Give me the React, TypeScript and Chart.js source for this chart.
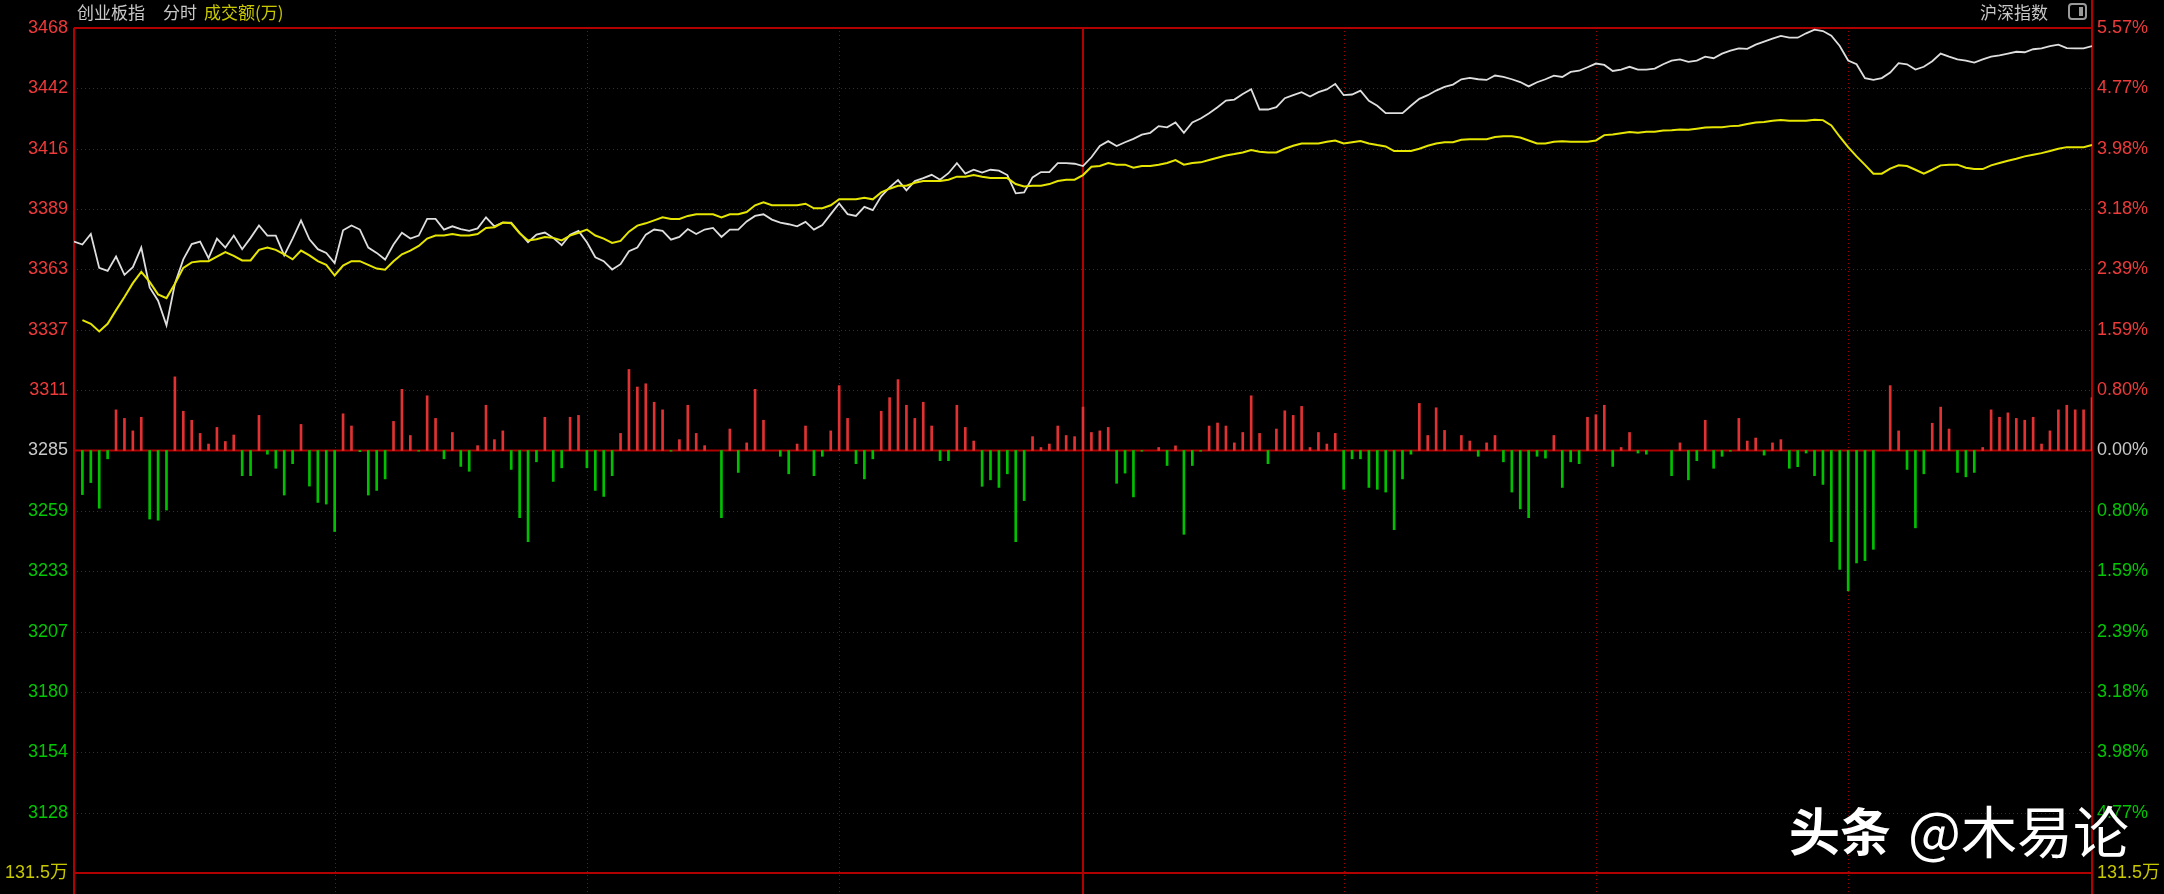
import React, { useEffect, useRef } from 'react';
import { Chart, registerables } from 'chart.js';

Chart.register(...registerables);

// ---- axis / label data ----
const prevClose = 3285;
const axisTop = 3468;
const axisBottom = 3102;
const leftTickLabels = ['3468', '3442', '3416', '3389', '3363', '3337', '3311', '3285', '3259', '3233', '3207', '3180', '3154', '3128', '131.5万'];
const rightTickLabels = ['5.57%', '4.77%', '3.98%', '3.18%', '2.39%', '1.59%', '0.80%', '0.00%', '0.80%', '1.59%', '2.39%', '3.18%', '3.98%', '4.77%', '131.5万'];
const totalMinutes = 240;
const middayMinute = 120;
const timeGridMinutes = [31, 61, 91, 151, 181, 211];
const headerName = '创业板指';
const headerMode = '分时';
const headerVolume = '成交额(万)';
const headerRight = '沪深指数';
const watermarkA = '头条';
const watermarkB = '@木易论';

// ---- series data (minute 0..240) ----
const indexLine: number[] = [
  3375.5, 3374.2, 3378.8, 3364.1, 3362.8, 3369.0, 3361.1, 3364.4, 3372.9, 3355.6,
  3349.9, 3339.2, 3357.2, 3367.8, 3374.4, 3375.5, 3368.3, 3376.8, 3372.9, 3378.1,
  3372.2, 3377.1, 3382.5, 3378.1, 3378.1, 3369.5, 3376.8, 3384.7, 3376.5, 3372.2,
  3370.6, 3366.2, 3380.4, 3382.5, 3380.7, 3372.9, 3370.6, 3367.7, 3374.2, 3379.3,
  3376.8, 3378.1, 3385.3, 3385.3, 3380.7, 3382.1, 3380.9, 3380.1, 3381.2, 3386.0,
  3382.1, 3383.7, 3383.7, 3379.3, 3375.2, 3378.5, 3379.4, 3377.1, 3373.9, 3378.5,
  3380.1, 3375.2, 3368.7, 3367.0, 3363.4, 3365.7, 3371.3, 3372.9, 3378.5, 3380.7,
  3380.1, 3376.3, 3377.5, 3380.9, 3378.8, 3380.7, 3381.4, 3377.5, 3380.7, 3380.7,
  3384.2, 3386.6, 3387.3, 3385.0, 3383.7, 3383.0, 3382.1, 3384.0, 3380.7, 3382.7,
  3387.4, 3392.0, 3387.4, 3386.6, 3390.5, 3389.1, 3395.1, 3399.0, 3402.1, 3397.7,
  3401.7, 3403.0, 3404.4, 3402.3, 3405.1, 3409.5, 3404.9, 3406.6, 3405.4, 3406.6,
  3406.2, 3404.3, 3396.4, 3396.8, 3403.3, 3405.6, 3405.6, 3409.5, 3409.5, 3409.2,
  3408.2, 3412.0, 3416.9, 3419.0, 3416.9, 3418.5, 3420.0, 3421.8, 3422.6, 3425.5,
  3425.0, 3427.1, 3422.6, 3427.1, 3428.8, 3431.1, 3433.7, 3436.6, 3437.0, 3439.4,
  3441.5, 3432.7, 3432.7, 3433.7, 3437.6, 3438.9, 3440.2, 3438.3, 3440.2, 3441.4,
  3443.8, 3438.9, 3439.2, 3440.9, 3436.5, 3434.3, 3431.1, 3431.1, 3431.1, 3434.3,
  3437.3, 3438.9, 3440.9, 3442.5, 3443.5, 3445.8, 3446.4, 3445.8, 3445.5, 3447.4,
  3446.8, 3445.8, 3444.6, 3442.7, 3444.5, 3445.8, 3447.4, 3446.8, 3449.0, 3449.5,
  3451.0, 3452.6, 3452.0, 3449.4, 3450.0, 3451.2, 3450.0, 3450.0, 3450.4, 3452.3,
  3453.9, 3454.4, 3453.3, 3453.9, 3455.6, 3454.9, 3456.9, 3458.2, 3459.2, 3459.0,
  3460.8, 3462.1, 3463.4, 3464.6, 3463.8, 3463.8, 3465.7, 3467.3, 3466.7, 3464.7,
  3460.2, 3453.9, 3452.3, 3446.3, 3445.5, 3446.3, 3448.7, 3452.8, 3452.3, 3450.0,
  3451.2, 3453.6, 3456.9, 3455.6, 3454.4, 3453.9, 3453.0, 3454.4, 3455.6, 3456.1,
  3456.9, 3457.7, 3457.5, 3458.8, 3459.2, 3460.2, 3460.8, 3459.3, 3459.2, 3459.2,
  3460.2,
];

const avgLine: (number | null)[] = [
  null, 3341.5, 3339.9, 3336.6, 3339.9, 3345.8, 3351.5, 3357.5, 3362.4, 3358.0,
  3352.6, 3351.0, 3357.2, 3364.1, 3366.5, 3367.0, 3367.0, 3369.0, 3370.9, 3369.3,
  3367.3, 3367.3, 3371.9, 3372.9, 3371.9, 3370.0, 3367.8, 3371.6, 3369.5, 3367.0,
  3365.4, 3360.8, 3365.1, 3367.0, 3367.0, 3365.4, 3363.8, 3363.3, 3367.0, 3370.0,
  3371.6, 3373.6, 3376.8, 3378.1, 3378.1, 3378.8, 3378.1, 3378.1, 3378.8, 3381.4,
  3381.7, 3383.7, 3383.4, 3379.1, 3376.0, 3376.5, 3377.5, 3377.1, 3376.0, 3378.1,
  3379.3, 3380.7, 3378.1, 3376.8, 3374.9, 3375.8, 3379.8, 3382.4, 3383.4, 3384.7,
  3386.0, 3385.3, 3385.3, 3386.6, 3387.3, 3387.3, 3387.3, 3386.0, 3387.3, 3387.3,
  3388.3, 3391.2, 3392.5, 3391.2, 3391.2, 3391.2, 3391.2, 3391.9, 3389.9, 3389.9,
  3391.2, 3393.8, 3393.8, 3393.8, 3394.5, 3393.8, 3396.8, 3398.4, 3399.7, 3399.7,
  3401.0, 3401.7, 3401.7, 3401.7, 3402.3, 3403.6, 3403.6, 3404.3, 3403.6, 3403.0,
  3403.0, 3403.0, 3400.4, 3399.4, 3399.7, 3399.7, 3400.4, 3401.7, 3402.3, 3402.3,
  3404.3, 3407.9, 3408.2, 3409.5, 3408.8, 3408.8, 3407.5, 3408.2, 3408.2, 3408.8,
  3409.5, 3410.8, 3408.8, 3409.5, 3409.8, 3410.8, 3411.8, 3412.8, 3413.4, 3414.1,
  3415.1, 3414.4, 3414.1, 3414.1, 3415.7, 3417.0, 3418.0, 3418.0, 3418.0, 3418.7,
  3419.3, 3418.0, 3418.5, 3419.0, 3418.0, 3417.3, 3416.7, 3414.7, 3414.7, 3414.7,
  3415.7, 3417.0, 3418.0, 3418.5, 3418.5, 3419.6, 3419.8, 3419.8, 3419.8, 3420.8,
  3421.1, 3421.1, 3420.6, 3419.3, 3418.0, 3418.0, 3418.7, 3419.0, 3418.7, 3418.7,
  3418.7, 3419.3, 3421.6, 3421.9, 3422.4, 3422.9, 3422.6, 3423.1, 3423.1, 3423.6,
  3423.7, 3424.0, 3423.9, 3424.4, 3424.9, 3425.0, 3425.0, 3425.5, 3425.7, 3426.4,
  3427.1, 3427.3, 3427.8, 3428.1, 3427.8, 3427.8, 3427.8, 3428.3, 3428.1, 3425.8,
  3420.9, 3416.4, 3412.4, 3408.7, 3404.9, 3404.9, 3407.1, 3408.5, 3408.2, 3406.6,
  3404.9, 3406.6, 3408.5, 3408.8, 3408.8, 3407.5, 3406.9, 3406.9, 3408.5, 3409.5,
  3410.5, 3411.4, 3412.4, 3413.1, 3413.8, 3414.7, 3415.7, 3416.4, 3416.4, 3416.4,
  3417.3,
];

// signed bar values (minute 0..240), drawn up (red) or down (green) from the centre line
const flowBars: number[] = [
  0, -19.1, -13.9, -25.0, -3.6, 17.6, 13.9, 8.5, 14.4, -29.7,
  -30.2, -25.8, 31.9, 17.0, 13.1, 7.4, 2.8, 10.0, 3.9, 6.7,
  -10.9, -10.9, 15.2, -1.6, -7.7, -19.3, -5.7, 11.3, -15.4, -22.5,
  -23.2, -35.1, 15.9, 10.6, -0.5, -19.3, -17.3, -12.3, 12.6, 26.5,
  6.5, -0.3, 23.7, 13.9, -3.6, 7.8, -6.9, -9.0, 2.1, 19.6,
  4.7, 8.5, -8.2, -29.1, -39.5, -4.9, 14.4, -13.4, -7.5, 14.4,
  15.2, -7.5, -17.3, -19.9, -10.9, 7.4, 35.1, 27.5, 28.9, 20.9,
  17.6, -0.3, 4.7, 19.6, 7.4, 2.1, 0, -29.1, 9.3, -9.5,
  3.3, 26.5, 13.1, 0, -2.5, -10.1, 2.8, 10.6, -10.9, -2.5,
  8.5, 28.1, 13.9, -5.7, -12.3, -3.6, 17.0, 22.9, 30.7, 19.6,
  13.9, 20.9, 10.6, -4.4, -4.4, 19.6, 10.0, 4.1, -15.5, -12.7,
  -16.0, -10.1, -39.5, -21.7, 6.0, 1.3, 2.8, 10.6, 6.5, 6.0,
  18.8, 7.8, 8.5, 10.0, -14.2, -9.8, -20.1, -0.3, 0, 1.3,
  -6.5, 2.0, -36.3, -6.5, -0.3, 10.6, 11.9, 10.6, 3.3, 7.8,
  23.7, 7.4, -5.7, 9.3, 17.2, 15.2, 19.1, 1.3, 7.8, 2.8,
  7.4, -16.8, -3.6, -3.6, -16.0, -16.8, -18.0, -34.3, -12.3, -1.6,
  20.4, 6.5, 18.5, 8.7, 0, 6.5, 4.1, -2.5, 3.3, 6.5,
  -4.9, -18.0, -25.3, -29.1, -2.5, -3.3, 6.5, -16.0, -4.9, -5.7,
  14.4, 15.5, 19.6, -6.9, 1.3, 7.8, -1.1, -1.6, 0, 0,
  -10.9, 3.3, -12.7, -4.4, 13.1, -7.7, -2.5, -0.3, 13.9, 4.1,
  5.4, -2.0, 3.3, 4.7, -7.7, -7.0, -1.1, -10.9, -14.7, -39.5,
  -51.5, -60.8, -48.7, -47.7, -42.8, 0, 28.1, 8.5, -8.2, -33.5,
  -10.1, 11.8, 18.8, 9.3, -9.5, -11.4, -9.5, 1.3, 17.6, 14.4,
  16.3, 13.9, 13.1, 14.4, 2.8, 8.5, 17.6, 19.6, 17.6, 17.6,
  22.9,
];

// ---- styling ----
const RED = '#ee3a3a';
const GREEN = '#00c800';
const GRAY = '#c8c8c8';
const YELLOW = '#c8c800';
const FRAME = '#b00000';
const DOT = '#a00000';
const NUM_FONT = "'Liberation Sans', 'Noto Sans CJK SC', sans-serif";
const CJK_FONT = "'Noto Sans CJK SC', 'Noto Sans', sans-serif";

const tickStep = (axisTop - axisBottom) / (leftTickLabels.length - 1);
const tickValues = leftTickLabels.map((_, k) => axisTop - k * tickStep);
const centerIndex = leftTickLabels.indexOf(String(prevClose));
const labelColor = (k: number) =>
  k === leftTickLabels.length - 1 ? YELLOW : k < centerIndex ? RED : k === centerIndex ? GRAY : GREEN;

const decorPlugin = {
  id: 'decor',
  beforeDraw(chart: any) {
    const ctx = chart.ctx;
    ctx.save();
    ctx.fillStyle = '#000';
    ctx.fillRect(0, 0, chart.width, chart.height);
    ctx.restore();
  },
  beforeDatasetsDraw(chart: any) {
    const { ctx, chartArea: a, scales } = chart;
    const xs = scales.x;
    const ys = scales.y;
    const line = (x1: number, y1: number, x2: number, y2: number) => {
      ctx.beginPath();
      ctx.moveTo(x1, y1);
      ctx.lineTo(x2, y2);
      ctx.stroke();
    };
    ctx.save();
    ctx.strokeStyle = DOT;
    ctx.lineWidth = 1;
    ctx.setLineDash([1, 3]);
    tickValues.forEach((v, k) => {
      if (k === 0 || k === centerIndex || k === tickValues.length - 1) return;
      const py = Math.round(ys.getPixelForValue(v)) + 0.5;
      line(a.left + 3, py, a.right, py);
    });
    timeGridMinutes.forEach((m) => {
      const px = Math.round(xs.getPixelForValue(m)) + 0.5;
      line(px, a.top + 3, px, chart.height);
    });
    ctx.setLineDash([]);
    ctx.strokeStyle = FRAME;
    ctx.lineWidth = 2;
    line(a.left, a.top, a.right, a.top);
    line(a.left, a.bottom, a.right, a.bottom);
    line(a.left, a.top, a.left, chart.height);
    line(a.right, 0, a.right, chart.height);
    const mid = xs.getPixelForValue(middayMinute);
    line(mid, a.top, mid, chart.height);
    const zy = ys.getPixelForValue(prevClose);
    line(a.left, zy, a.right, zy);
    ctx.restore();
  },
  afterDraw(chart: any) {
    const ctx = chart.ctx;
    ctx.save();
    ctx.textBaseline = 'middle';
    ctx.textAlign = 'left';
    ctx.font = `17px ${CJK_FONT}`;
    ctx.fillStyle = GRAY;
    ctx.fillText(headerName, 77, 13);
    ctx.fillText(headerMode, 163, 13);
    ctx.fillStyle = YELLOW;
    ctx.fillText(headerVolume, 204, 13);
    ctx.fillStyle = GRAY;
    ctx.fillText(headerRight, 1980, 13);
    // small window icon
    ctx.strokeStyle = '#9a9a9a';
    ctx.lineWidth = 2;
    ctx.beginPath();
    (ctx as any).roundRect(2069, 4, 17, 15, 3);
    ctx.stroke();
    ctx.fillStyle = '#9a9a9a';
    ctx.fillRect(2079, 7, 4, 9);
    // watermark
    ctx.shadowColor = 'rgba(0,0,0,0.8)';
    ctx.shadowBlur = 4;
    ctx.fillStyle = '#ffffff';
    ctx.font = `bold 51px ${CJK_FONT}`;
    ctx.fillText(watermarkA, 1789, 832);
    ctx.font = `56px ${CJK_FONT}`;
    ctx.fillText(watermarkB, 1908, 832);
    ctx.restore();
  },
};

export default function App() {
  const ref = useRef<HTMLCanvasElement | null>(null);

  useEffect(() => {
    if (!ref.current) return;
    const chart = new Chart(ref.current, {
      type: 'bar',
      data: {
        datasets: [
          {
            type: 'line',
            label: '均价',
            data: avgLine.map((v, i) => ({ x: i, y: v })),
            borderColor: '#e6e600',
            borderWidth: 2,
            pointRadius: 0,
            tension: 0,
            spanGaps: false,
            yAxisID: 'y',
            xAxisID: 'x',
            order: 0,
          } as any,
          {
            type: 'line',
            label: headerName,
            data: indexLine.map((v, i) => ({ x: i, y: v })),
            borderColor: '#dedede',
            borderWidth: 1.8,
            pointRadius: 0,
            tension: 0,
            yAxisID: 'y',
            xAxisID: 'x',
            order: 1,
          } as any,
          {
            type: 'bar',
            label: headerVolume,
            data: flowBars.map((v, i) => ({ x: i, y: v })).filter((p) => p.y !== 0),
            backgroundColor: (c: any) => ((c.raw && c.raw.y) >= 0 ? '#e03232' : '#00c000'),
            borderWidth: 0,
            barThickness: 2,
            grouped: false,
            yAxisID: 'yb',
            xAxisID: 'x',
            order: 2,
          } as any,
        ],
      },
      options: {
        responsive: false,
        animation: false,
        devicePixelRatio: 1,
        events: [],
        layout: { padding: { top: 28, bottom: 21, left: 0, right: 0 } },
        plugins: { legend: { display: false }, tooltip: { enabled: false }, title: { display: false } },
        scales: {
          x: {
            type: 'linear',
            min: 0,
            max: totalMinutes,
            offset: false,
            display: false,
            grid: { display: false },
          },
          y: {
            type: 'linear',
            position: 'left',
            min: axisBottom,
            max: axisTop,
            afterBuildTicks: (s: any) => {
              s.ticks = tickValues.map((v) => ({ value: v }));
            },
            afterFit: (s: any) => {
              s.width = 74;
            },
            grid: { display: false, drawTicks: false },
            border: { display: false },
            ticks: {
              autoSkip: false,
              padding: 6,
              font: { family: NUM_FONT, size: 18 },
              color: (c: any) => labelColor(c.index),
              callback: (_v: any, i: number) => leftTickLabels[i],
            },
          },
          yr: {
            type: 'linear',
            position: 'right',
            min: axisBottom,
            max: axisTop,
            afterBuildTicks: (s: any) => {
              s.ticks = tickValues.map((v) => ({ value: v }));
            },
            afterFit: (s: any) => {
              s.width = 72;
            },
            grid: { display: false, drawTicks: false },
            border: { display: false },
            ticks: {
              autoSkip: false,
              padding: 5,
              font: { family: NUM_FONT, size: 18 },
              color: (c: any) => labelColor(c.index),
              callback: (_v: any, i: number) => rightTickLabels[i],
            },
          },
          yb: {
            type: 'linear',
            display: false,
            min: -(axisTop - prevClose),
            max: axisTop - prevClose,
          },
        },
      } as any,
      plugins: [decorPlugin],
    });
    return () => chart.destroy();
  }, []);

  return (
    <div style={{ position: 'fixed', left: 0, top: 0, width: 2164, height: 894, background: '#000' }}>
      <canvas ref={ref} width={2164} height={894} style={{ display: 'block', width: 2164, height: 894 }} />
    </div>
  );
}
